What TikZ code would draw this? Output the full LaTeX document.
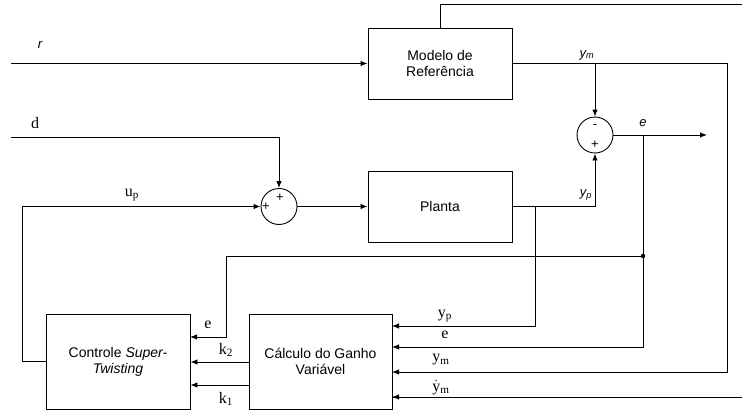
\documentclass[tikz,border=0pt]{standalone}
\usepackage{amsmath}
\usepackage{fontspec}
\setmainfont{Liberation Serif}
\setsansfont{Liberation Sans}
\usetikzlibrary{arrows.meta}
\begin{document}
\begin{tikzpicture}[x=1pt,y=-1pt,line width=0.9pt,
  >={Latex[length=7pt,width=5.5pt]},
  blk/.style={draw,minimum width=144pt,inner sep=0pt,align=center,
    font=\sffamily\fontsize{14}{16}\selectfont},
  sumc/.style={draw,circle,minimum size=36pt,inner sep=0pt},
  slab/.style={font=\sffamily\itshape\fontsize{13}{14}\selectfont,inner sep=0pt},
  sgn/.style={font=\sffamily\fontsize{13}{13}\selectfont,inner sep=0pt},
  tlab/.style={font=\fontsize{16}{17}\selectfont,inner sep=0pt}]
\useasboundingbox (0,0) rectangle (742,412);
% blocks
\node[blk,minimum height=71pt] (ref) at (440,63.5) {Modelo de\\Referência};
\node[blk,minimum height=71pt] (pl) at (440,206.5) {Planta};
\node[blk,minimum height=95pt] (ctl) at (118,361.5) {Controle \textit{Super-}\\\textit{Twisting}};
\node[blk,minimum width=143pt,minimum height=95pt] (calc) at (320.5,361.5) {Cálculo do Ganho\\Variável};
\node[sumc] (s1) at (279,206.5) {};
\node[sumc] (s2) at (595,135) {};
% coordinates
\coordinate (rin) at (11,63.5);
\coordinate (din) at (11,137);
\coordinate (top) at (440,4);
\coordinate (topR) at (743,4);
\coordinate (ymR) at (727,63.5);
\coordinate (eout) at (707,135);
\coordinate (be) at (643,135);
\coordinate (dot) at (643,256);
\coordinate (eL) at (226,256);
\coordinate (bp) at (535,206.5);
\coordinate (upL) at (22,361.5);
\coordinate (cyp) at (392,326);
\coordinate (ce) at (392,347);
\coordinate (cym) at (392,372);
\coordinate (cdym) at (392,397);
\coordinate (ke) at (190,337);
\coordinate (k2) at (249,362);
\coordinate (k1) at (249,385);
% connectors
\draw[->] (rin) -- (ref.west);
\draw (ref.north) -- (top) -- (topR) |- (cdym);
\draw[->] (topR |- cdym) -- (cdym);
\draw[->] (ref.east) -- (ymR) |- (cym);
\draw[->] (s2 |- ref.east) -- (s2.north);
\draw[->] (pl.east) -| (s2.south);
\draw[->] (bp) |- (cyp);
\draw[->] (s2.east) -- (eout);
\draw[->] (be) |- (ce);
\fill (dot) circle (2.2pt);
\draw[->] (dot) -- (eL) |- (ke);
\draw[->] (din) -| (s1.north);
\draw[->] (s1.east) -- (pl.west);
\draw[->] (ctl.west) -- (upL) |- (s1.west);
\draw[->] (k2) -- (ctl.east |- k2);
\draw[->] (k1) -- (ctl.east |- k1);
% labels
\node[slab] (lr) at (40,45) {r};
\node[slab] (lym) at (587,55) {y\textsubscript{m}};
\node[slab] (le) at (643,123) {e};
\node[slab] (lyp) at (586,195) {y\textsubscript{p}};
\node[sgn] (m2) at (595,127) {-};
\node[sgn] (p2) at (595,145) {+};
\node[sgn] (p1a) at (266,207) {+};
\node[sgn] (p1b) at (280,198) {+};
\node[tlab] (ld) at (35,123) {d};
\node[tlab] (lup) at (132,195) {u\textsubscript{p}};
\node[tlab] (lce) at (208,325) {e};
\node[tlab] (lk2) at (226,350) {k\textsubscript{2}};
\node[tlab] (lk1) at (226,399) {k\textsubscript{1}};
\node[tlab] (lyp2) at (445,316) {y\textsubscript{p}};
\node[tlab] (le2) at (445,335) {e};
\node[tlab] (lym2) at (441,360) {y\textsubscript{m}};
\node[tlab,anchor=base] (ldym) at (441,391) {$\dot{\text{y}}$\textsubscript{m}};
\end{tikzpicture}
\end{document}
